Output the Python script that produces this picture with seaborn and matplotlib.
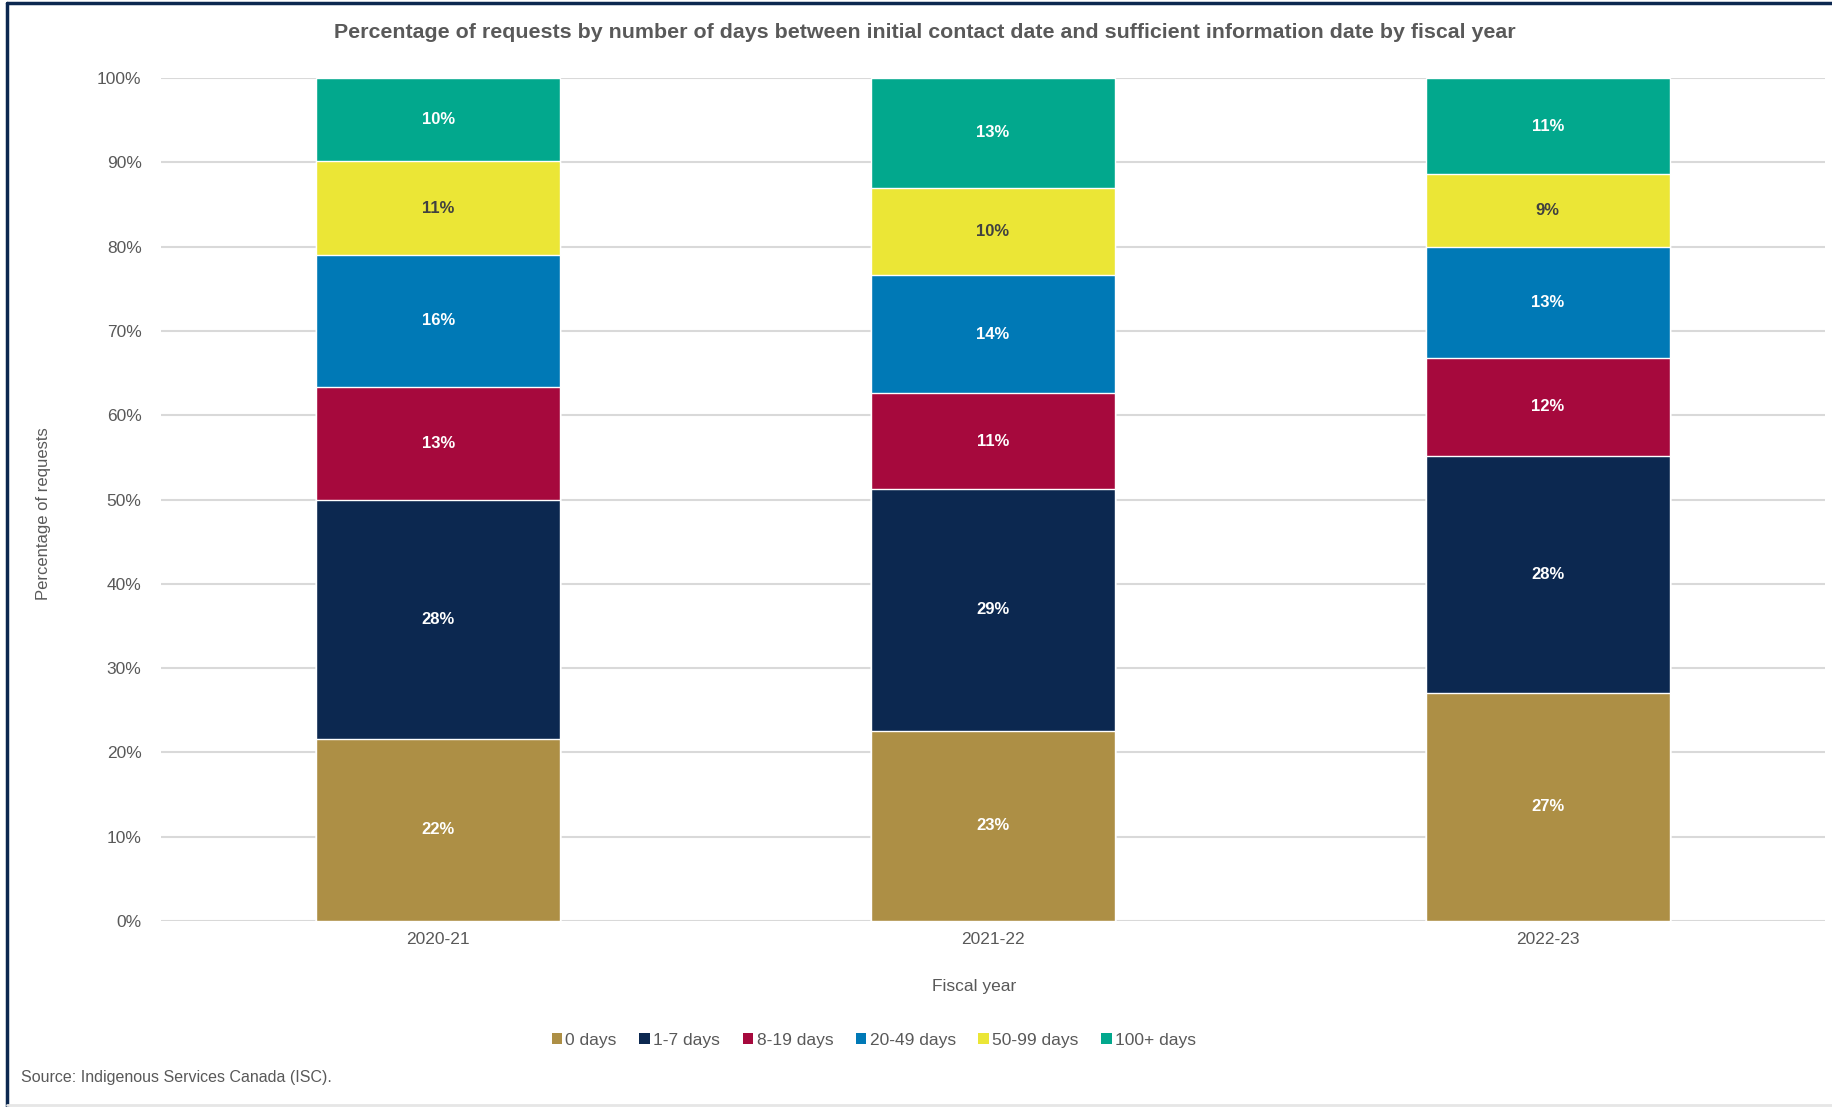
import numpy as np
import pandas as pd
import matplotlib.pyplot as plt
import seaborn as sns
from matplotlib.lines import Line2D
from matplotlib.patches import Patch

# Data (percent of requests)
years = ["2020-21", "2021-22", "2022-23"]
categories = ["0 days", "1-7 days", "8-19 days", "20-49 days", "50-99 days", "100+ days"]
days_0 = [21.6, 22.6, 27.1]
days_1_7 = [28.4, 28.6, 28.1]
days_8_19 = [13.4, 11.4, 11.6]
days_20_49 = [15.6, 14.0, 13.2]
days_50_99 = [11.1, 10.4, 8.6]
days_100 = [9.9, 13.0, 11.4]
colors = ["#AD8F45", "#0C2850", "#A6093D", "#0079B6", "#EBE636", "#02A88D"]
label_colors = ["white", "white", "white", "white", "#404040", "white"]

series = [days_0, days_1_7, days_8_19, days_20_49, days_50_99, days_100]
df = pd.DataFrame(series, index=categories, columns=years).T
cum = df.cumsum(axis=1)

sns.set_style("white")
plt.rcParams["font.family"] = ["Liberation Sans", "DejaVu Sans"]
text_gray = "#595959"

fig = plt.figure(figsize=(18.32, 11.07), dpi=100)
ax = fig.add_axes([0.0879, 0.168, 0.9083, 0.7615])

# stacked bars: draw cumulative totals from top layer down
for i in reversed(range(len(categories))):
    sns.barplot(x=years, y=cum[categories[i]].values, color=colors[i],
                width=0.44, saturation=1, ax=ax, zorder=2)

# value labels
for i, cat in enumerate(categories):
    for j, yr in enumerate(years):
        v = df.loc[yr, cat]
        ax.text(j, cum.loc[yr, cat] - v / 2, f"{v:.0f}%", ha="center", va="center",
                color=label_colors[i], fontsize=12, fontweight="bold", zorder=3)

ax.set_xlim(-0.5, 2.5)
ax.set_ylim(0, 100)
ax.set_yticks(np.arange(0, 101, 10))
ax.set_yticklabels([f"{t}%" for t in range(0, 101, 10)])
ax.yaxis.grid(True, color="#d9d9d9", linewidth=1.5, zorder=0)
ax.xaxis.grid(False)
ax.set_axisbelow(True)
sns.despine(ax=ax, left=True, bottom=True)
ax.tick_params(axis="both", length=0, labelsize=12.5, colors=text_gray, pad=8)
ax.tick_params(axis="y", pad=14)
ax.set_xlabel("")
ax.set_ylabel("")

fig.text(0.505, 0.971, "Percentage of requests by number of days between initial contact date and sufficient information date by fiscal year",
         ha="center", va="center", fontsize=15.4, fontweight="bold", color=text_gray)
fig.text(0.532, 0.109, "Fiscal year", ha="center", va="center", fontsize=12.5, color=text_gray)
fig.text(0.0235, 0.536, "Percentage of requests", ha="center", va="center", rotation=90,
         fontsize=12, color=text_gray)
fig.text(0.0115, 0.027, "Source: Indigenous Services Canada (ISC).", ha="left", va="center",
         fontsize=11.5, color=text_gray)

handles = [Patch(facecolor=c, edgecolor="none") for c in colors]
fig.legend(handles, categories, loc="center", bbox_to_anchor=(0.477, 0.06), ncol=6,
           frameon=False, fontsize=12.5, handlelength=0.6, handleheight=0.6,
           handletextpad=0.2, columnspacing=1.3, labelcolor=text_gray)

# frame around the figure
fig.add_artist(Line2D([0.004, 0.004], [0.0, 0.997], transform=fig.transFigure, color="#0C2850", lw=2.5))
fig.add_artist(Line2D([0.004, 1.0], [0.997, 0.997], transform=fig.transFigure, color="#0C2850", lw=2.5))
fig.add_artist(Line2D([0.004, 1.0], [0.002, 0.002], transform=fig.transFigure, color="#e6e6e6", lw=2))

fig.savefig("out.png", dpi=100)
